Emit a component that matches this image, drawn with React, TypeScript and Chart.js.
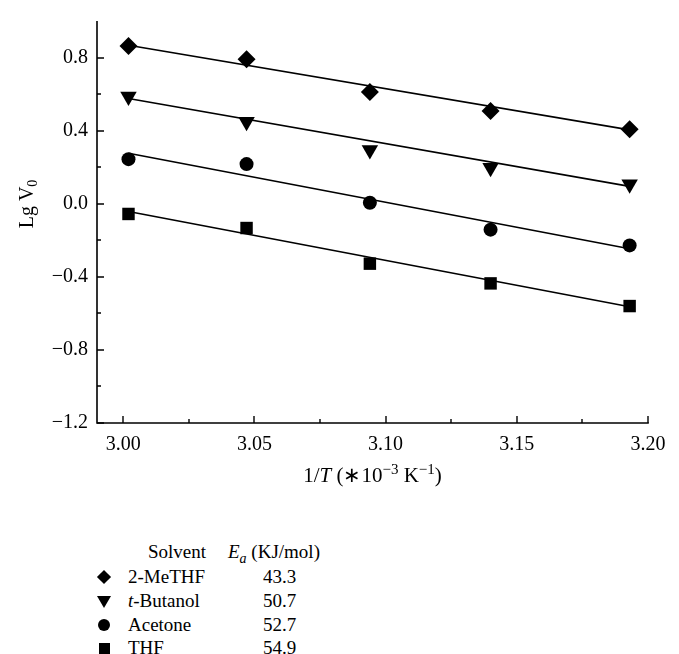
import React, { useEffect, useRef } from "react";
import { Chart, registerables } from "chart.js";

Chart.register(...registerables);

// ---- data ----
const xValues = [3.002, 3.047, 3.094, 3.14, 3.193];
const meTHF = [0.863, 0.791, 0.612, 0.508, 0.407];
const tButanol = [0.587, 0.448, 0.294, 0.197, 0.106];
const acetone = [0.244, 0.217, 0.005, -0.142, -0.228];
const thf = [-0.056, -0.133, -0.328, -0.436, -0.56];

// fitted straight lines (end points)
const fitX = [3.002, 3.193];
const meTHFFit = [0.867, 0.404];
const tButanolFit = [0.576, 0.095];
const acetoneFit = [0.276, -0.246];
const thfFit = [-0.043, -0.564];

const xTickValues = [3.0, 3.025, 3.05, 3.075, 3.1, 3.125, 3.15, 3.175, 3.2];
const xTickLabels = ["3.00", "", "3.05", "", "3.10", "", "3.15", "", "3.20"];
const yTickValues = [-1.2, -1.0, -0.8, -0.6, -0.4, -0.2, 0.0, 0.2, 0.4, 0.6, 0.8];
const yTickLabels = ["\u22121.2", "", "\u22120.8", "", "\u22120.4", "", "0.0", "", "0.4", "", "0.8"];

const solventNames = ["2-MeTHF", "t-Butanol", "Acetone", "THF"];
const eaValues = ["43.3", "50.7", "52.7", "54.9"];

const FONT = "'Liberation Serif', 'Times New Roman', serif";

const pts = (xs: number[], ys: number[]) => xs.map((x, i) => ({ x, y: ys[i] }));

const decoPlugin = {
  id: "deco",
  afterDraw(chart: any) {
    const { ctx, chartArea, scales } = chart;
    const { left, right, top, bottom } = chartArea;
    const xs = scales.x;
    const ys = scales.y;
    ctx.save();
    ctx.strokeStyle = "#000";
    ctx.lineWidth = 1.6;
    ctx.beginPath();
    ctx.moveTo(left, top);
    ctx.lineTo(left, bottom);
    ctx.lineTo(right + 0.8, bottom);
    ctx.stroke();
    ctx.lineWidth = 1.4;
    ctx.beginPath();
    xTickValues.forEach((v, i) => {
      const px = Math.round(xs.getPixelForValue(v));
      const len = xTickLabels[i] ? 7 : 4;
      ctx.moveTo(px, bottom);
      ctx.lineTo(px, bottom - len);
    });
    yTickValues.forEach((v, i) => {
      const py = Math.round(ys.getPixelForValue(v));
      const len = yTickLabels[i] ? 7 : 4;
      ctx.moveTo(left, py);
      ctx.lineTo(left + len, py);
    });
    ctx.stroke();

    // x axis title: 1/T (*10^-3 K^-1)
    ctx.fillStyle = "#000";
    ctx.textBaseline = "alphabetic";
    const big = `21px ${FONT}`;
    const ital = `italic 21px ${FONT}`;
    const sup = `15px ${FONT}`;
    const parts: [string, string, number][] = [
      ["1/", big, 0],
      ["T", ital, 0],
      [" (\u221710", big, 0],
      ["\u22123", sup, -8],
      [" K", big, 0],
      ["\u22121", sup, -8],
      [")", big, 0],
    ];
    let total = 0;
    parts.forEach(([t, f]) => {
      ctx.font = f;
      total += ctx.measureText(t).width;
    });
    let cx = (left + right) / 2 - total / 2;
    const by = 482;
    parts.forEach(([t, f, dy]) => {
      ctx.font = f;
      ctx.fillText(t, cx, by + dy);
      cx += ctx.measureText(t).width;
    });

    // y axis title: Lg V0
    ctx.save();
    ctx.translate(33, 204);
    ctx.rotate(-Math.PI / 2);
    const yb = `20px ${FONT}`;
    const ys2 = `14px ${FONT}`;
    const yparts: [string, string, number][] = [
      ["Lg V", yb, 0],
      ["0", ys2, 4],
    ];
    let tw = 0;
    yparts.forEach(([t, f]) => {
      ctx.font = f;
      tw += ctx.measureText(t).width;
    });
    let ox = -tw / 2;
    yparts.forEach(([t, f, dy]) => {
      ctx.font = f;
      ctx.fillText(t, ox, dy);
      ox += ctx.measureText(t).width;
    });
    ctx.restore();
    ctx.restore();
  },
};

function Marker({ kind }: { kind: string }) {
  const base: React.CSSProperties = { position: "absolute", background: "#000" };
  if (kind === "diamond")
    return <div style={{ ...base, width: 10, height: 10, left: -5, top: -5, transform: "rotate(45deg)" }} />;
  if (kind === "tri")
    return (
      <div
        style={{
          position: "absolute",
          width: 0,
          height: 0,
          left: -7,
          top: -5,
          borderLeft: "7px solid transparent",
          borderRight: "7px solid transparent",
          borderTop: "12px solid #000",
        }}
      />
    );
  if (kind === "circle")
    return <div style={{ ...base, width: 12, height: 12, left: -6, top: -6, borderRadius: "50%" }} />;
  return <div style={{ ...base, width: 11, height: 11, left: -5.5, top: -5.5 }} />;
}

export default function App() {
  const ref = useRef<HTMLCanvasElement>(null);

  useEffect(() => {
    if (!ref.current) return;
    const lineDs = (ys: number[]) => ({
      type: "line" as const,
      data: pts(fitX, ys),
      borderColor: "#000",
      borderWidth: 1.6,
      pointRadius: 0,
      showLine: true,
      fill: false,
      order: 2,
    });
    const markDs = (ys: number[], style: string, r: number, rot = 0) => ({
      type: "scatter" as const,
      data: pts(xValues, ys),
      backgroundColor: "#000",
      borderColor: "#000",
      borderWidth: 0,
      pointStyle: style,
      pointRadius: r,
      pointRotation: rot,
      showLine: false,
      order: 1,
    });
    const chart = new Chart(ref.current, {
      type: "scatter",
      data: {
        datasets: [
          lineDs(meTHFFit),
          lineDs(tButanolFit),
          lineDs(acetoneFit),
          lineDs(thfFit),
          markDs(meTHF, "rectRot", 9),
          markDs(tButanol, "triangle", 9.5, 180),
          markDs(acetone, "circle", 7),
          markDs(thf, "rect", 8.8),
        ] as any,
      },
      options: {
        animation: false,
        responsive: false,
        maintainAspectRatio: false,
        devicePixelRatio: 1,
        layout: { padding: { left: 0, right: 31, top: 14, bottom: 0 } },
        plugins: { legend: { display: false }, tooltip: { enabled: false } },
        scales: {
          x: {
            type: "linear",
            min: 2.99,
            max: 3.2,
            grid: { display: false, drawTicks: false },
            border: { display: false },
            afterBuildTicks: (s: any) => {
              s.ticks = xTickValues.map((value) => ({ value }));
            },
            afterFit: (s: any) => {
              s.height = 77;
            },
            ticks: {
              autoSkip: false,
              maxRotation: 0,
              padding: 10,
              color: "#000",
              font: { family: FONT, size: 20 },
              callback: (_v: any, i: number) => xTickLabels[i],
            },
          },
          y: {
            type: "linear",
            min: -1.2,
            max: 1.0,
            grid: { display: false, drawTicks: false },
            border: { display: false },
            afterBuildTicks: (s: any) => {
              s.ticks = yTickValues.map((value) => ({ value }));
            },
            afterFit: (s: any) => {
              s.width = 97;
            },
            ticks: {
              autoSkip: false,
              padding: 9,
              color: "#000",
              font: { family: FONT, size: 20 },
              callback: (_v: any, i: number) => yTickLabels[i],
            },
          },
        },
      },
      plugins: [decoPlugin],
    });
    return () => chart.destroy();
  }, []);

  const kinds = ["diamond", "tri", "circle", "square"];
  const rowY = [577, 601, 625, 648];
  const txt: React.CSSProperties = {
    position: "absolute",
    fontFamily: FONT,
    fontSize: 19,
    lineHeight: "20px",
    color: "#000",
    whiteSpace: "nowrap",
    transform: "translateY(-50%)",
  };

  return (
    <div style={{ position: "absolute", left: 0, top: 0, width: 679, height: 654, background: "#fff", overflow: "hidden" }}>
      <canvas ref={ref} width={679} height={500} style={{ display: "block", width: 679, height: 500 }} />
      <div style={{ ...txt, left: 148, top: 552 }}>Solvent</div>
      <div style={{ ...txt, left: 228, top: 552 }}>
        <i>E</i>
        <sub style={{ fontSize: 14, fontStyle: "italic", verticalAlign: "-5px", lineHeight: 0 }}>a</sub> (KJ/mol)
      </div>
      {solventNames.map((name, i) => (
        <React.Fragment key={name}>
          <div style={{ position: "absolute", left: 104, top: rowY[i] }}>
            <Marker kind={kinds[i]} />
          </div>
          <div style={{ ...txt, left: 128, top: rowY[i] }}>
            {name === "t-Butanol" ? (
              <>
                <i>t</i>-Butanol
              </>
            ) : (
              name
            )}
          </div>
          <div style={{ ...txt, left: 263, top: rowY[i] }}>{eaValues[i]}</div>
        </React.Fragment>
      ))}
    </div>
  );
}
